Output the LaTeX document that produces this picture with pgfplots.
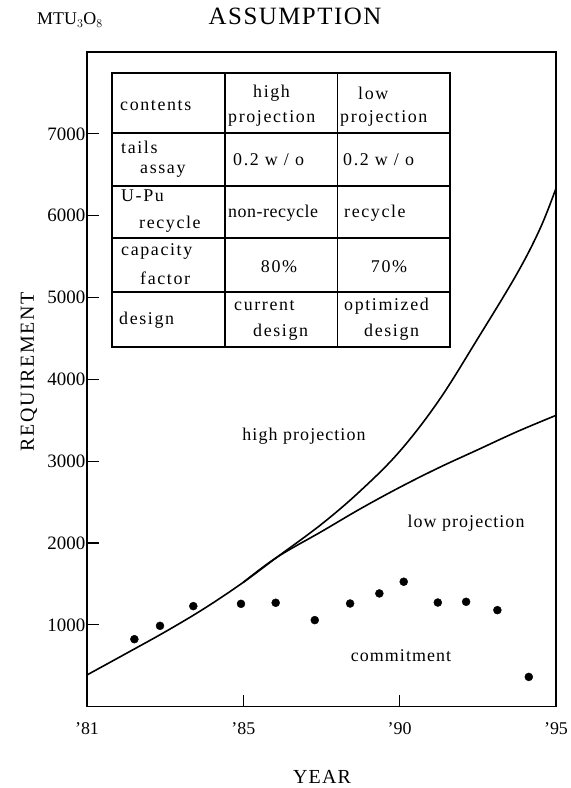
\documentclass[border=0pt]{standalone}
\usepackage{fontspec}
\setmainfont{Liberation Serif}
\newfontfamily\spf{Liberation Serif}[LetterSpace=9]
\newfontfamily\nrf{Liberation Serif}[LetterSpace=3]
\newfontfamily\lbf{Liberation Serif}[LetterSpace=6]
\newfontfamily\ttf{Liberation Serif}[LetterSpace=6]
\newfontfamily\axf{Liberation Serif}[LetterSpace=8]
\usepackage{pgfplots}
\pgfplotsset{compat=1.18}
\begin{document}
\begin{tikzpicture}
\begin{axis}[
  scale only axis, width=469bp, height=654.7bp,
  xmin=0, xmax=3, ymin=0, ymax=8000,
  xtick={0,1,2,3}, xticklabels={'81,'85,'90,'95},
  ytick={1000,2000,3000,4000,5000,6000,7000},
  tick pos=left, tick align=inside, major tick length=12bp,
  axis line style={line width=1.2bp},
  every tick/.style={black, line width=1.2bp},
  x tick label style={font=\fontsize{18}{20}\selectfont, inner sep=2bp, yshift=-14bp},
  y tick label style={font=\fontsize{19}{21}\selectfont, inner sep=1.5bp},
  /pgf/number format/assume math mode=true,
  /pgf/number format/set thousands separator={},
  scaled y ticks=false,
]
% common + high projection
\addplot[black, line width=1.6bp, smooth, tension=0.6] coordinates {
 (0,388) (0.25,650) (0.5,915) (0.75,1200) (1.0,1520) (1.214,1825)
 (1.5,2230) (1.75,2640) (2.0,3120) (2.25,3740) (2.5,4500)
 (2.75,5290) (2.9,5850) (3.0,6335)};
% low projection
\addplot[black, line width=1.6bp, smooth, tension=0.6] coordinates {
 (1.0,1520) (1.214,1825) (1.5,2140) (1.75,2420) (2.0,2680)
 (2.25,2920) (2.5,3140) (2.75,3360) (3.0,3560)};
% commitment
\addplot[only marks, mark=*, mark size=4bp, black] coordinates {
 (0.303,825) (0.467,988) (0.680,1229) (0.985,1257) (1.207,1270)
 (1.457,1058) (1.683,1261) (1.870,1384) (2.026,1527) (2.244,1273)
 (2.425,1282) (2.625,1180) (2.826,364)};
\end{axis}
\begin{scope}[shift={(-87bp,706.7bp)}, x=1bp, y=-1bp]
\path[use as bounding box] (0,0) rectangle (571,788);
% titles
\node[font=\fontsize{25}{28}\ttf] at (295,16) {ASSUMPTION};
\node[font=\fontsize{18}{20}\selectfont, anchor=west, inner sep=0] at (37,20) {MTU$_3$O$_8$};
\node[font=\fontsize{20}{22}\axf, rotate=90] at (29,372) {REQUIREMENT};
\node[font=\fontsize{20}{22}\ttf] at (322,777) {YEAR};
% curve labels
\node[font=\fontsize{18}{20}\lbf] at (304,436) {high projection};
\node[font=\fontsize{18}{20}\lbf] at (466,523) {low projection};
\node[font=\fontsize{18}{20}\lbf] at (401,656) {commitment};
% table
\draw[line width=1.1bp] (112,73) rectangle (450,347);
\draw[line width=1.1bp] (225,73) -- (225,347) (337.5,73) -- (337.5,347);
\draw[line width=1.1bp] (112,133) -- (450,133) (112,186) -- (450,186)
  (112,238) -- (450,238) (112,292) -- (450,292);
\begin{scope}[every node/.style={font=\fontsize{18}{20}\spf, inner sep=0, anchor=west}]
\node at (120,106) {contents};
\node at (253,93) {high};
\node at (228,118) {projection};
\node at (358,93) {low};
\node at (340,118) {projection};
\node at (121,147) {tails};
\node at (140,171) {assay};
\node at (233,160) {0.2 w / o};
\node at (343,160) {0.2 w / o};
\node at (121,196) {U-Pu};
\node at (139,224) {recycle};
\node[font=\fontsize{18}{20}\nrf] at (228,213) {non-recycle};
\node at (344,213) {recycle};
\node at (121,252) {capacity};
\node at (140,278) {factor};
\node[anchor=center] at (279,267) {80\%};
\node[anchor=center] at (389,267) {70\%};
\node at (119,320) {design};
\node at (234,306) {current};
\node at (253,332) {design};
\node at (344,306) {optimized};
\node at (364,332) {design};
\end{scope}
\end{scope}
\end{tikzpicture}
\end{document}
